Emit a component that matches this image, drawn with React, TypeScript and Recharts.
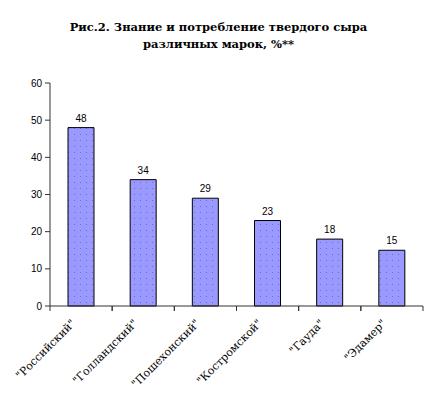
import React, { useEffect } from 'react';
import { BarChart, Bar, XAxis, YAxis, LabelList } from 'recharts';

const brands = ['"Российский"', '"Голландский"', '"Пошехонский"', '"Костромской"', '"Гауда"', '"Эдамер"'];
const shares = [48, 34, 29, 23, 18, 15];
const yTicks = [0, 10, 20, 30, 40, 50, 60];

const data = brands.map((name, i) => ({ name, value: shares[i] }));

const serif = "'DejaVu Serif', serif";
const sans = "Arial, 'Liberation Sans', sans-serif";

const BrandTick = ({ x, y, payload }: any) => {
  const half = payload && payload.offset ? payload.offset : 31;
  return (
    <g>
      <line x1={x - half} y1={y - 8} x2={x - half} y2={y - 3} stroke='#333' />
      <line x1={x + half} y1={y - 8} x2={x + half} y2={y - 3} stroke='#333' />
      <text
        transform={`translate(${x - 5},${y + 10}) rotate(-45)`}
        textAnchor='end'
        fontFamily={serif}
        fontSize={11}
        fill='#000'
      >
        {payload.value}
      </text>
    </g>
  );
};

const App = () => {
  useEffect(() => {
    document.body.style.margin = '0';
  }, []);
  return (
    <div style={{ position: 'relative', width: 437, height: 407, background: '#fff' }}>
      <div
        style={{
          position: 'absolute',
          top: 19,
          left: 0,
          width: 437,
          textAlign: 'center',
          fontFamily: serif,
          fontWeight: 'bold',
          fontSize: 11.5,
          lineHeight: '17px',
        }}
      >
        Рис.2. Знание и потребление твердого сыра
        <br />
        различных марок, %**
      </div>
      <BarChart
        width={437}
        height={407}
        data={data}
        margin={{ top: 83, right: 14, bottom: 1, left: 0 }}
      >
        <defs>
          <pattern id='dots' width='6' height='6' patternUnits='userSpaceOnUse'>
            <rect width='6' height='6' fill='#9999FF' />
            <rect x='2' y='2' width='1' height='1' fill='#6A6AD0' />
          </pattern>
        </defs>
        <XAxis
          dataKey='name'
          interval={0}
          height={100}
          tickLine={false}
          axisLine={{ stroke: '#333' }}
          tick={<BrandTick />}
        />
        <YAxis
          domain={[0, 60]}
          ticks={yTicks}
          width={50}
          tickSize={5}
          tickMargin={3}
          axisLine={{ stroke: '#333' }}
          tickLine={{ stroke: '#333' }}
          tick={{ fontFamily: sans, fontSize: 10, fill: '#000' }}
        />
        <Bar dataKey='value' fill='url(#dots)' stroke='#000' strokeWidth={1} barSize={26} isAnimationActive={false}>
          <LabelList
            dataKey='value'
            position='top'
            offset={6}
            fontFamily={sans}
            fontSize={10}
            fill='#000'
          />
        </Bar>
      </BarChart>
    </div>
  );
};

export default App;
